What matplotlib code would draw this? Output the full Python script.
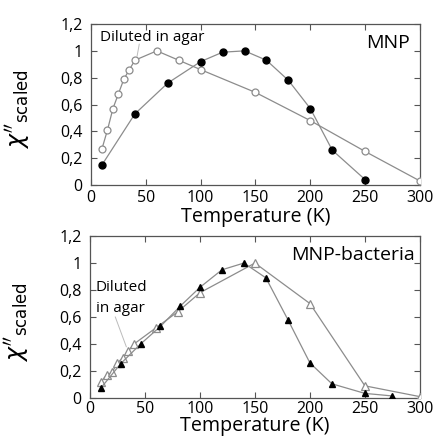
import matplotlib.pyplot as plt
from matplotlib.ticker import FuncFormatter

plt.rcParams['font.family'] = ['Open Sans', 'DejaVu Sans']

# top panel: MNP
mnp_agar_T = [10, 15, 20, 25, 30, 35, 40, 60, 80, 100, 150, 200, 250, 300]
mnp_agar_chi = [0.27, 0.41, 0.57, 0.68, 0.79, 0.86, 0.93, 1.0, 0.93, 0.86, 0.69, 0.48, 0.25, 0.03]
mnp_T = [10, 40, 70, 100, 120, 140, 160, 180, 200, 220, 250]
mnp_chi = [0.15, 0.53, 0.76, 0.92, 0.99, 1.0, 0.93, 0.78, 0.57, 0.26, 0.04]

# bottom panel: MNP-bacteria
bac_agar_T = [10, 15, 20, 25, 30, 35, 40, 60, 80, 100, 150, 200, 250, 300]
bac_agar_chi = [0.12, 0.17, 0.19, 0.26, 0.30, 0.35, 0.40, 0.52, 0.64, 0.78, 1.0, 0.70, 0.09, 0.01]
bac_T = [10, 28, 46, 64, 82, 100, 120, 140, 160, 180, 200, 220, 250, 275]
bac_chi = [0.075, 0.255, 0.40, 0.53, 0.68, 0.82, 0.95, 1.0, 0.89, 0.58, 0.26, 0.105, 0.034, 0.015]

line_c = '#8c8c8c'
spine_c = '#555555'


def comma(v, _):
    s = f"{v:.1f}".replace('.', ',')
    if s.endswith(',0'):
        s = s[:-2]
    return s


def style(ax, xpad=3.5, labelpad=1):
    ax.set_xlim(0, 300)
    ax.set_ylim(0, 1.2)
    ax.set_xticks(range(0, 301, 50))
    ax.set_yticks([0, 0.2, 0.4, 0.6, 0.8, 1.0, 1.2])
    ax.yaxis.set_major_formatter(FuncFormatter(comma))
    ax.tick_params(direction='in', top=True, right=True, length=4, width=0.8,
                   color=spine_c, labelsize=11.5)
    ax.tick_params(axis='x', pad=xpad)
    ax.tick_params(axis='y', pad=6)
    for s in ax.spines.values():
        s.set_color(spine_c)
        s.set_linewidth(0.9)
    ax.set_xlabel('Temperature (K)', fontsize=14.2, labelpad=labelpad)
    ax.set_ylabel(r"$\chi''_{\mathrm{scaled}}$", fontsize=17)
    ax.yaxis.set_label_coords(-0.178, 0.47)


fig = plt.figure(figsize=(4.34, 4.40), dpi=100)
ax1 = fig.add_axes([0.2097, 0.5795, 0.758, 0.3659])
ax2 = fig.add_axes([0.2074, 0.0955, 0.760, 0.368])

ax1.plot(mnp_agar_T, mnp_agar_chi, '-o', color=line_c, lw=0.9, ms=5,
         mfc='white', mec=line_c, mew=0.9, zorder=3)
ax1.plot(mnp_T, mnp_chi, '-o', color=line_c, lw=0.9, ms=5,
         mfc='black', mec='black', zorder=3)
ax1.text(8, 1.10, 'Diluted in agar', fontsize=11, va='center')
ax1.plot([44, 42], [1.05, 0.96], color='#bbbbbb', lw=0.7)
ax1.text(0.97, 0.88, 'MNP', transform=ax1.transAxes, fontsize=14,
         ha='right', va='center')
style(ax1)

ax2.plot(bac_agar_T, bac_agar_chi, '-^', color=line_c, lw=0.9, ms=5.5,
         mfc='white', mec=line_c, mew=0.9, zorder=3)
ax2.plot(bac_T, bac_chi, '-^', color=line_c, lw=0.9, ms=5,
         mfc='black', mec='black', zorder=3)
ax2.text(5, 0.82, 'Diluted', fontsize=11, va='center')
ax2.text(5, 0.66, 'in agar', fontsize=11, va='center')
ax2.plot([23, 33], [0.60, 0.38], color='#bbbbbb', lw=0.7)
ax2.text(0.985, 0.88, 'MNP-bacteria', transform=ax2.transAxes, fontsize=14,
         ha='right', va='center')
style(ax2, xpad=2.5, labelpad=-1)

fig.savefig('out.png', dpi=100)
